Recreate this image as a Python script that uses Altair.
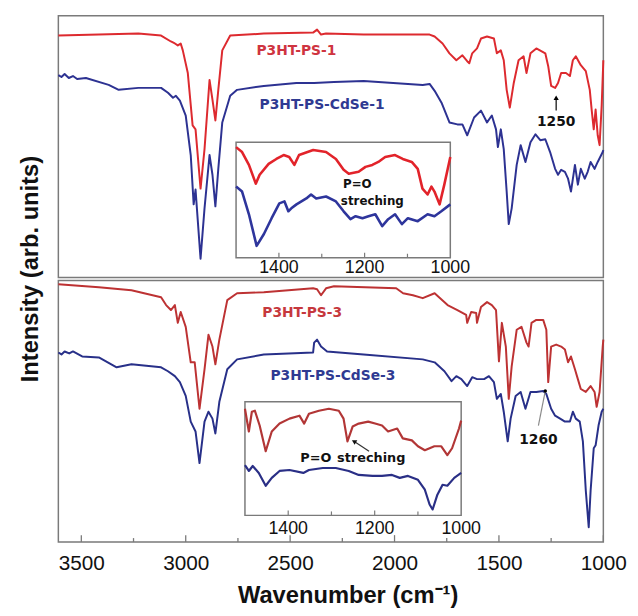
import altair as alt
import pandas as pd

# ---------------- data ----------------
# top panel: P3HT-PS-1 (red) and P3HT-PS-CdSe-1 (blue)
TOP_RED_WN = [3610,3416,3227,3118,3071,3052,3038,3024,3014,2990,2967,2953,2929,2910,2886,2872,2858,2844,2825,2787,
              2626,2390,2371,2352,2328,2148,1832,1808,1770,1737,1704,1675,1652,1642,1628,1605,1586,1557,1524,1510,
              1491,1477,1463,1448,1429,1406,1382,1368,1349,1321,1278,1264,1250,1231,1217,1202,1179,1160,1146,1132,
              1108,1084,1065,1056,1046,1037,1027,1018,1008,1000]
TOP_RED_V = [245,246,247,245,239,237,235,237,230,207,154,150,90,130,200,180,159,190,230,245,
             247,248,251,246,247,246,246,244,237,227,220,225,219,217,227,232,242,244,242,227,
             230,220,190,172,197,220,224,207,227,232,227,214,194,192,197,207,207,204,220,224,
             215,209,190,170,150,170,144,134,174,220]
TOP_BLUE_WN = [3610,3595,3580,3560,3540,3520,3478,3369,3321,3227,3118,3085,3061,3047,3028,3000,2976,2962,2953,2929,
               2910,2886,2872,2858,2844,2825,2787,2754,2626,2470,2385,2290,2148,1865,1832,1808,1775,1737,1699,1675,
               1652,1619,1586,1557,1534,1514,1505,1491,1477,1463,1453,1439,1415,1396,1373,1349,1325,1302,1278,1255,
               1231,1217,1202,1184,1169,1155,1136,1122,1108,1089,1075,1061,1042,1027,1003,1000]
TOP_BLUE_V = [205,203,206,202,204,201,202,195,190,192,192,187,182,184,179,164,124,74,89,19,
              70,124,104,72,110,157,184,190,194,197,197,198,199,195,196,189,177,157,155,155,
              144,162,169,157,164,150,132,150,130,87,54,70,114,134,117,137,145,139,140,127,
              110,104,109,107,100,87,114,94,110,100,107,117,110,117,127,129]

# bottom panel: P3HT-PS-3 (red) and P3HT-PS-CdSe-3 (blue)
BOT_RED_WN = [3610,3416,3260,3118,3094,3071,3052,3038,3024,3000,2976,2957,2934,2910,2891,2872,2858,2839,2801,2754,
              2626,2390,2371,2352,2328,2290,1992,1959,1912,1865,1808,1746,1699,1657,1652,1633,1609,1605,1586,1557,
              1534,1514,1500,1486,1467,1453,1439,1415,1392,1368,1358,1344,1321,1288,1273,1264,1250,1226,1202,1184,
              1169,1155,1136,1122,1108,1084,1061,1042,1032,1018,1003,1000]
BOT_RED_V = [261,258,255,248,240,235,240,222,233,218,182,182,135,175,210,198,180,205,245,252,
             253,257,256,250,257,259,257,252,250,247,252,240,235,230,222,233,232,222,238,243,
             240,235,183,222,198,145,178,215,218,202,198,222,225,225,215,162,198,200,198,195,
             182,188,175,165,155,152,158,152,137,152,198,205]
BOT_BLUE_WN = [3610,3595,3580,3558,3540,3496,3416,3331,3260,3118,3085,3052,3028,3000,2976,2953,2934,2910,2891,2872,
               2858,2839,2801,2754,2626,2390,2385,2371,2352,2323,2148,1865,1808,1761,1727,1704,1680,1652,1628,1605,
               1571,1548,1524,1510,1491,1477,1458,1444,1420,1396,1373,1349,1321,1288,1273,1250,1231,1207,1184,1160,
               1146,1132,1113,1098,1084,1070,1061,1046,1037,1023,1008,1000]
BOT_BLUE_V = [192,190,193,191,193,188,187,177,180,177,173,168,162,148,122,112,80,122,132,125,
              110,142,175,185,190,192,202,205,198,193,190,185,182,173,163,168,165,158,167,165,
              165,168,162,145,150,132,102,125,148,152,135,152,152,153,150,135,128,125,122,122,
              132,125,122,102,52,15,52,95,98,118,132,135]

# inset 1 (1500-1000 cm-1, top panel)
IN1_RED_WN = [1500,1486,1470,1454,1445,1424,1406,1389,1376,1364,1353,1320,1290,1267,1249,1237,1214,1198,1182,1168,
              1152,1129,1111,1090,1076,1065,1053,1044,1037,1025,1014,1000]
IN1_RED_V = [112,107,94,75,84,95,100,104,102,94,104,109,107,100,89,85,87,92,94,97,
             102,104,100,97,90,70,64,72,67,54,74,102]
IN1_BLUE_WN = [1500,1486,1470,1452,1435,1417,1399,1387,1378,1371,1359,1336,1325,1313,1290,1267,1249,1233,1221,1205,
               1191,1175,1159,1145,1129,1113,1099,1076,1053,1037,1021,1000]
IN1_BLUE_V = [72,67,44,12,24,40,55,57,47,50,54,60,64,60,62,57,47,39,42,40,
              42,44,32,39,44,34,40,37,44,42,47,54]

# inset 2 (1500-1000 cm-1, bottom panel)
IN2_RED_WN = [1500,1491,1484,1477,1466,1452,1438,1420,1397,1374,1363,1352,1329,1306,1283,1272,1263,1251,1237,1215,
              1199,1183,1169,1148,1135,1114,1100,1084,1062,1046,1032,1021,1005,1000]
IN2_RED_V = [108,85,105,106,91,65,85,93,98,101,93,103,106,108,106,98,75,90,93,95,
             93,91,85,88,78,76,70,66,70,70,61,68,88,96]
IN2_BLUE_WN = [1500,1491,1482,1468,1452,1438,1420,1397,1365,1352,1320,1290,1260,1237,1205,1183,1160,1142,1123,1100,
               1084,1073,1066,1055,1043,1032,1016,1000]
IN2_BLUE_V = [51,45,50,43,30,38,45,46,43,46,48,48,45,41,40,40,41,38,40,36,
              26,11,6,21,31,30,38,43]

# axes ticks
MAIN_TICKS = [3500,3250,3000,2750,2500,2250,2000,1750,1500,1250,1000]
MAIN_TICK_LEN = [7,4,7,4,7,4,7,4,7,4,7]
MAIN_LABELS = [3500,3000,2500,2000,1500,1000]
INSET_TICKS = [1400,1300,1200,1100]
INSET_TICK_LEN = [5,4,5,4]
INSET_LABELS = [1400,1200,1000]

# annotations
TOP_LABELS = ["P3HT-PS-1", "P3HT-PS-CdSe-1", "1250"]
TOP_LABEL_WN = [2470, 2347, 1226]
TOP_LABEL_V = [229, 175, 157]
BOT_LABELS = ["P3HT-PS-3", "P3HT-PS-CdSe-3", "1260"]
BOT_LABEL_WN = [2442, 2295, 1311]
BOT_LABEL_V = [232, 168, 103]
IN1_TEXT = ["P=O", "streching"]
IN1_TEXT_WN = [1217, 1182]
IN1_TEXT_V = [75, 57]
IN2_TEXT = ["P=O", "streching"]
IN2_TEXT_WN = [1336, 1208]
IN2_TEXT_V = [58, 58]

# ---------------- scales ----------------
def S(domain, rng):
    return alt.Scale(domain=domain, range=rng, nice=False, zero=False)

X_MAIN = ([3610, 1000], [0, 552])
Y_TOP = ([0, 265], [265, 0])
Y_BOT = ([0, 265], [533, 268])
Y_FULL = ([0, 533], [533, 0])
X_IN1 = ([1500, 1000], [180, 397])
Y_IN1 = ([0, 117], [245, 128])
X_IN2 = ([1500, 1000], [189, 408])
Y_IN2 = ([0, 115], [506, 391])

FRAME = "#7a7a7a"


def curve(wn, v, color, xs, ys, width):
    df = pd.DataFrame({"wn": wn, "v": v})
    return alt.Chart(df).mark_line(color=color, strokeWidth=width, strokeJoin="round").encode(
        x=alt.X("wn:Q", scale=S(*xs), axis=None),
        y=alt.Y("v:Q", scale=S(*ys), axis=None),
    )


def frame(xs, ys, fill):
    df = pd.DataFrame({"x1": [xs[0][0]], "x2": [xs[0][1]], "y1": [ys[0][0]], "y2": [ys[0][1]]})
    kw = dict(stroke=FRAME, strokeWidth=1.5)
    if fill:
        mk = alt.Chart(df).mark_rect(fill="white", **kw)
    else:
        mk = alt.Chart(df).mark_rect(fillOpacity=0, **kw)
    return mk.encode(
        x=alt.X("x1:Q", scale=S(*xs), axis=None), x2="x2:Q",
        y=alt.Y("y1:Q", scale=S(*ys), axis=None), y2="y2:Q",
    )


def inset_ticks(xs, ys):
    df = pd.DataFrame({"wn": INSET_TICKS, "len": INSET_TICK_LEN, "base": [0] * len(INSET_TICKS)})
    return alt.Chart(df).mark_rule(color=FRAME, strokeWidth=1.2).encode(
        x=alt.X("wn:Q", scale=S(*xs), axis=None),
        y=alt.Y("base:Q", scale=S(*ys), axis=None), y2="len:Q",
    )


def inset_labels(xs, ys, off):
    df = pd.DataFrame({"wn": INSET_LABELS, "v": [off] * len(INSET_LABELS),
                       "t": [str(t) for t in INSET_LABELS]})
    return alt.Chart(df).mark_text(font="Liberation Sans", fontSize=18, color="#111",
                                   baseline="middle", align="center").encode(
        x=alt.X("wn:Q", scale=S(*xs), axis=None),
        y=alt.Y("v:Q", scale=S(*ys), axis=None),
        text="t:N",
    )


def texts(labels, wn, v, colors, xs, ys, size):
    df = pd.DataFrame({"t": labels, "wn": wn, "v": v, "c": colors})
    return alt.Chart(df).mark_text(font="DejaVu Sans", fontWeight="bold", fontSize=size,
                                   baseline="middle", align="center").encode(
        x=alt.X("wn:Q", scale=S(*xs), axis=None),
        y=alt.Y("v:Q", scale=S(*ys), axis=None),
        text="t:N",
        color=alt.Color("c:N", scale=None),
    )


layers = []
layers.append(frame(X_MAIN, Y_TOP, False))
layers.append(frame(X_MAIN, Y_BOT, False))
layers.append(curve(TOP_RED_WN, TOP_RED_V, "#dd2a2f", X_MAIN, Y_TOP, 2))
layers.append(curve(TOP_BLUE_WN, TOP_BLUE_V, "#2d3292", X_MAIN, Y_TOP, 2))
layers.append(curve(BOT_RED_WN, BOT_RED_V, "#bd3233", X_MAIN, Y_BOT, 2))
layers.append(curve(BOT_BLUE_WN, BOT_BLUE_V, "#283089", X_MAIN, Y_BOT, 2))

# insets
layers.append(frame(X_IN1, Y_IN1, True))
layers.append(frame(X_IN2, Y_IN2, True))
layers.append(inset_ticks(X_IN1, Y_IN1))
layers.append(inset_ticks(X_IN2, Y_IN2))
layers.append(curve(IN1_RED_WN, IN1_RED_V, "#e2232a", X_IN1, Y_IN1, 2.6))
layers.append(curve(IN1_BLUE_WN, IN1_BLUE_V, "#2e359c", X_IN1, Y_IN1, 2.6))
layers.append(curve(IN2_RED_WN, IN2_RED_V, "#b23636", X_IN2, Y_IN2, 2.2))
layers.append(curve(IN2_BLUE_WN, IN2_BLUE_V, "#2a2f86", X_IN2, Y_IN2, 2.2))
layers.append(inset_labels(X_IN1, Y_IN1, -11))
layers.append(inset_labels(X_IN2, Y_IN2, -14))

# arrows
arrow1 = pd.DataFrame({"wn": [1226], "v1": [169], "v2": [182]})
layers.append(alt.Chart(arrow1).mark_rule(color="black", strokeWidth=1.2).encode(
    x=alt.X("wn:Q", scale=S(*X_MAIN), axis=None),
    y=alt.Y("v1:Q", scale=S(*Y_TOP), axis=None), y2="v2:Q"))
layers.append(alt.Chart(arrow1).mark_point(shape="triangle-up", filled=True, color="black", size=28, opacity=1).encode(
    x=alt.X("wn:Q", scale=S(*X_MAIN), axis=None),
    y=alt.Y("v2:Q", scale=S(*Y_TOP), axis=None)))

arrow2 = pd.DataFrame({"wn1": [1311], "wn2": [1278], "v1": [118], "v2": [153]})
layers.append(alt.Chart(arrow2).mark_rule(color="#8a8a8a", strokeWidth=1.2).encode(
    x=alt.X("wn1:Q", scale=S(*X_MAIN), axis=None), x2="wn2:Q",
    y=alt.Y("v1:Q", scale=S(*Y_BOT), axis=None), y2="v2:Q"))
layers.append(alt.Chart(arrow2).mark_point(shape="circle", filled=True, color="black", size=12, opacity=1).encode(
    x=alt.X("wn2:Q", scale=S(*X_MAIN), axis=None),
    y=alt.Y("v2:Q", scale=S(*Y_BOT), axis=None)))

arrow3 = pd.DataFrame({"wn1": [1213], "wn2": [1248], "v1": [65], "v2": [75]})
layers.append(alt.Chart(arrow3).mark_rule(color="#333", strokeWidth=1.2).encode(
    x=alt.X("wn1:Q", scale=S(*X_IN2), axis=None), x2="wn2:Q",
    y=alt.Y("v1:Q", scale=S(*Y_IN2), axis=None), y2="v2:Q"))
layers.append(alt.Chart(arrow3).mark_point(shape="triangle-up", filled=True, color="#111", size=30, opacity=1,
                                           angle=300).encode(
    x=alt.X("wn2:Q", scale=S(*X_IN2), axis=None),
    y=alt.Y("v2:Q", scale=S(*Y_IN2), axis=None)))

# annotation texts
layers.append(texts(TOP_LABELS, TOP_LABEL_WN, TOP_LABEL_V, ["#cf3440", "#2f3a92", "#111111"], X_MAIN, Y_TOP, 14))
layers.append(texts(BOT_LABELS, BOT_LABEL_WN, BOT_LABEL_V, ["#c6383d", "#2f3a92", "#111111"], X_MAIN, Y_BOT, 14))
layers.append(texts(IN1_TEXT, IN1_TEXT_WN, IN1_TEXT_V, ["#111111", "#111111"], X_IN1, Y_IN1, 12))
layers.append(texts(IN2_TEXT, IN2_TEXT_WN, IN2_TEXT_V, ["#111111", "#111111"], X_IN2, Y_IN2, 13))

# main ticks + axes (x labels / titles)
ticks_df = pd.DataFrame({"wn": MAIN_TICKS, "len": MAIN_TICK_LEN, "base": [0] * len(MAIN_TICKS)})
layers.append(alt.Chart(ticks_df).mark_rule(color=FRAME, strokeWidth=1.3).encode(
    x=alt.X("wn:Q", scale=S(*X_MAIN),
            axis=alt.Axis(orient="bottom", values=MAIN_LABELS, format="d", ticks=False, tickSize=0,
                          domain=False, grid=False, labelFontSize=21, labelFont="Liberation Sans",
                          labelColor="#111", labelPadding=11, labelFlush=False,
                          title="Wavenumber (cm\u207B\u00B9)", titleFont="Liberation Sans",
                          titleFontSize=24, titleFontWeight="bold", titleColor="#111",
                          titlePadding=10, titleX=293)),
    y=alt.Y("base:Q", scale=S(*Y_FULL),
            axis=alt.Axis(orient="left", labels=False, ticks=False, domain=False, grid=False,
                          title="Intensity (arb. units)", titleFont="Liberation Sans",
                          titleFontSize=24, titleFontWeight="bold", titleColor="#111",
                          titlePadding=16, titleY=256)),
    y2="len:Q"))

chart = alt.layer(*layers).properties(
    width=552, height=533,
    padding={"left": 51, "top": 4, "right": 27, "bottom": 71},
    autosize=alt.AutoSizeParams(type="none"),
).resolve_scale(x="independent", y="independent").configure_view(stroke=None).configure_axis(grid=False)

chart.save("out.html", embed_options={"renderer": "svg", "actions": False})
